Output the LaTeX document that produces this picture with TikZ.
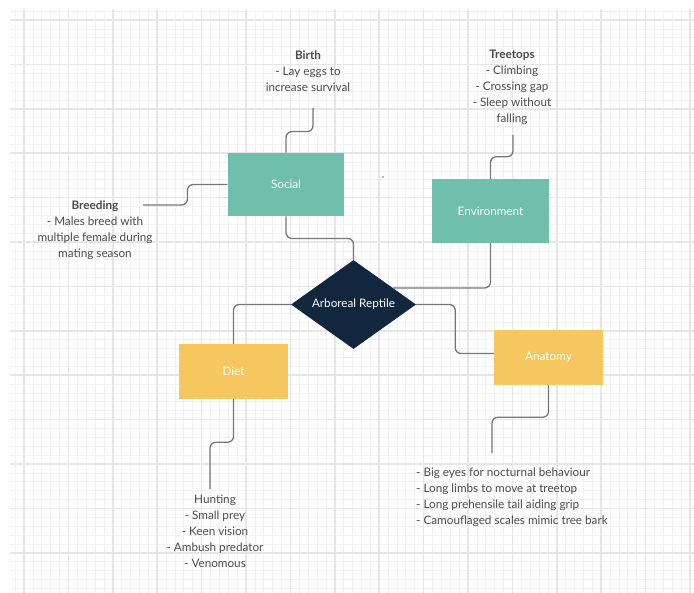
\documentclass[tikz,border=0pt]{standalone}
\usepackage{fontspec}
\setmainfont{Lato}
\usetikzlibrary{shapes.geometric,calc}

\definecolor{teal1}{RGB}{111,191,172}
\definecolor{yel1}{RGB}{246,198,95}
\definecolor{navy1}{RGB}{18,38,62}
\definecolor{wire}{RGB}{118,118,118}
\definecolor{ink}{RGB}{75,75,75}
\definecolor{gridmaj}{RGB}{230,230,230}
\definecolor{gridmin}{RGB}{242,242,242}

\begin{document}
\begin{tikzpicture}[x=0.03cm,y=-0.03cm,
  every node/.style={font=\fontsize{10}{13.66}\selectfont},
  box/.style={rectangle,text=white,inner sep=0pt},
  tealbox/.style={box,fill=teal1,minimum width=3.5cm,minimum height=1.9cm},
  yelbox/.style={box,fill=yel1,minimum width=3.27cm,minimum height=1.65cm},
  hub/.style={diamond,fill=navy1,text=white,inner sep=0pt,aspect=1.4,minimum width=3.75cm,minimum height=2.67cm},
  note/.style={text=ink,align=center,inner sep=0pt},
  link/.style={draw=wire,line width=1.1pt,rounded corners=5pt}]

\useasboundingbox (0,0) rectangle (694,593);
\fill[white] (0,0) rectangle (694,593);

% grid paper
\begin{scope}
\clip (10,10) rectangle (694,593);
\foreach \i in {0,...,78}
  \draw[gridmin,line width=0.6pt] (6.24+8.88*\i,0) -- (6.24+8.88*\i,593);
\foreach \j in {0,...,67}
  \draw[gridmin,line width=0.6pt] (0,2.24+8.88*\j) -- (694,2.24+8.88*\j);
\foreach \i in {0,...,15}
  \draw[gridmaj,line width=1.4pt] (24+44.4*\i,0) -- (24+44.4*\i,593);
\foreach \j in {0,...,13}
  \draw[gridmaj,line width=1.4pt] (0,20+44.4*\j) -- (694,20+44.4*\j);
\end{scope}

\node[hub] (dia) at (353.5,304.5) {Arboreal Reptile};
\node[tealbox] (soc) at (286,184.5) {Social};
\node[tealbox,minimum height=1.92cm] (env) at (490.5,211) {Environment};
\node[yelbox] (diet) at (233.5,371.5) {Diet};
\node[yelbox] (ana) at (548.5,357.5) {Anatomy};

\node[note] (birth) at (308,71) {\textbf{Birth}\\- Lay eggs to\\increase survival};
\node[note] (tree) at (512,87) {\textbf{Treetops}\\- Climbing\\- Crossing gap\\- Sleep without\\falling};
\node[note] (breed) at (95,230) {\textbf{Breeding}\\- Males breed with\\multiple female during\\mating season};
\node[note] (hunt) at (215,531) {Hunting\\- Small prey\\- Keen vision\\- Ambush predator\\- Venomous};
\node[note,align=left,anchor=west] (body) at (416,497) {- Big eyes for nocturnal behaviour\\- Long limbs to move at treetop\\- Long prehensile tail aiding grip\\- Camouflaged scales mimic tree bark};

\coordinate (b1) at (313,108);
\coordinate (t1) at (513,135);
\coordinate (br1) at (143,205);
\coordinate (h1) at (210,489);
\coordinate (a1) at (492,453);

\fill[wire] (383,177) circle (0.8);

\draw[link] (soc.north) -- ++(0,-21) -| (b1);
\draw[link] (soc.west) -- ++(-40,0) |- (br1);
\draw[link] (soc.south) -- ++(0,22) -| (dia.north);
\draw[link] (env.north) -- ++(0,-22) -| (t1);
\draw[link] (env.south) |- ($(dia.north)!0.63!(dia.east)$);
\draw[link] (dia.west) -| (diet.north);
\draw[link] (dia.east) -- ++(39,0) |- ($(ana.west)+(0,-4)$);
\draw[link] (diet.south) -- ++(0,43) -| (h1);
\draw[link] (ana.south) -- ++(0,32) -| (a1);

\end{tikzpicture}
\end{document}
